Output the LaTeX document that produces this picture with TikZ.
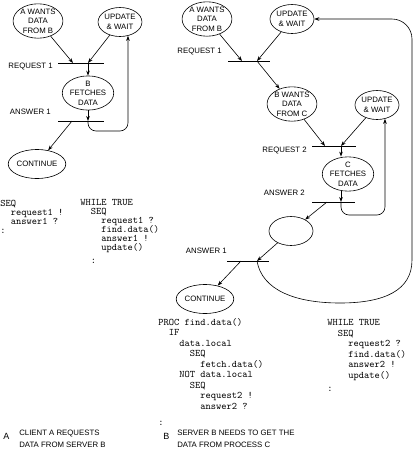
\documentclass[tikz,border=0pt]{standalone}
\usepackage{fontspec}
\setmainfont{Liberation Sans}
\usetikzlibrary{shapes.geometric,arrows.meta}

% un cran d'indentation du code (deux caracteres)
\newcommand{\decal}{\hspace*{1.05em}}
% interligne fixe pour le code
\newcommand{\serre}{\lineskiplimit=-6pt\relax}

\tikzset{
  etat/.style={draw, ellipse, inner sep=0pt, minimum width=44pt, minimum height=29pt,
    align=center, font=\fontsize{7.8}{9.4}\selectfont},
  etiq/.style={anchor=east, inner sep=0pt, font=\fontsize{7.8}{9}\selectfont},
  code/.style={anchor=north west, inner sep=0pt, align=left,
    font=\ttfamily\fontsize{10}{9}\selectfont\serre},
  codeb/.style={code, font=\ttfamily\fontsize{10}{10.5}\selectfont\serre},
  legende/.style={anchor=north west, inner sep=0pt, align=left,
    font=\fontsize{7.8}{11.5}\selectfont},
}

\begin{document}
\begin{tikzpicture}[x=1pt, y=-1pt, line width=0.6pt, >={Stealth[length=5pt,width=3.6pt]}]
\useasboundingbox (0,0) rectangle (416,451);

% A : le client demande au serveur B
\node[etat] (awb) at (38,21) {A WANTS\\DATA\\FROM B};
\node[etat, minimum width=41pt] (maj) at (120,22) {UPDATE\\\& WAIT};
\node[etat] (bfd) at (88,93) {B\\FETCHES\\DATA};
\node[etat] (suite) at (37,164) {CONTINUE};
% les barres des canaux
\draw (58,63) -- (104,63);
\coordinate (r1a) at (73,63);
\coordinate (r1b) at (88,63);
\draw (58,121) -- (104,121);
\coordinate (a1a) at (72,121);
\coordinate (a1b) at (88,121);
\node[etiq] (lreq1) at (53,67) {REQUEST 1};
\node[etiq] (lans1) at (51,112) {ANSWER 1};
\draw[->] (awb) -- (r1a);
\draw[->] (maj) -- (r1b);
\draw[->] (r1b) -- (bfd);
\draw[->] (bfd) -- (a1b);
\draw[->, rounded corners=8pt] (a1b) -- ++(0,10) -| (maj.-60);
\draw[->] (a1a) -- (suite);

\node[code] (progA) at (0,199.5) {SEQ\\\decal request1 !\\\decal answer1 ?\\:};
\node[code] (progB) at (80,199.5) {WHILE TRUE\\\decal SEQ\\\decal\decal request1 ?\\\decal\decal find.data()\\\decal\decal answer1 !\\\decal\decal update()\\[3.5pt]\decal :};

% B : le serveur B demande au processus C
\node[etat] (awb2) at (207,19) {A WANTS\\DATA\\FROM B};
\node[etat] (maj1) at (292,19) {UPDATE\\\& WAIT};
\node[etat] (bwc) at (292,104) {B WANTS\\DATA\\FROM C};
\node[etat] (maj2) at (377,105) {UPDATE\\\& WAIT};
\node[etat] (cfd) at (348,174) {C\\FETCHES\\DATA};
\node[etat] (vide) at (291,231) {};
\node[etat] (suite2) at (205,299) {CONTINUE};
\draw (228,61) -- (270,61);
\coordinate (s1a) at (242,61);
\coordinate (s1b) at (257,61);
\draw (312,146) -- (356,146);
\coordinate (s2a) at (325,146);
\coordinate (s2b) at (341,146);
\draw (312,202) -- (355,202);
\coordinate (t2a) at (327,202);
\coordinate (t2b) at (341,202);
\draw (227,261) -- (269,261);
\coordinate (t1a) at (241,261);
\coordinate (t1b) at (257,261);
\node[etiq] (rreq1) at (222,52) {REQUEST 1};
\node[etiq] (rreq2) at (307,151) {REQUEST 2};
\node[etiq] (rans2) at (305,193) {ANSWER 2};
\node[etiq] (rans1) at (227,251) {ANSWER 1};
\draw[->] (awb2) -- (s1a);
\draw[->] (maj1) -- (s1b);
\draw[->] (s1b) -- (bwc);
\draw[->] (bwc) -- (s2a);
\draw[->] (maj2) -- (s2b);
\draw[->] (s2b) -- (s2b |- cfd.north);
\draw[->] (cfd.south -| t2b) -- (t2b);
\draw[->, rounded corners=8pt] (t2b) -- ++(0,13) -| (maj2.-60);
\draw[->] (t2a) -- (vide);
\draw[->] (vide) -- (t1b);
\draw[->] (t1a) -- (suite2);
% la grande boucle qui remonte au premier UPDATE
\draw[->] (t1b) .. controls (262,290) and (295,303) .. (340,303)
  .. controls (385,303) and (412,290) .. (412,260)
  [rounded corners=20pt] |- (maj1.east);

\node[codeb] (proc) at (158,318) {PROC find.data()\\\decal IF\\\decal\decal data.local\\\decal\decal\decal SEQ\\\decal\decal\decal\decal fetch.data()\\\decal\decal NOT data.local\\\decal\decal\decal SEQ\\\decal\decal\decal\decal request2 !\\\decal\decal\decal\decal answer2 ?\\[6pt]:};
\node[codeb] (progC) at (327,319.5) {WHILE TRUE\\\decal SEQ\\\decal\decal request2 ?\\\decal\decal find.data()\\\decal\decal answer2 !\\\decal\decal update()\\[2.5pt]:};

% legendes
\node[anchor=west, inner sep=0pt, font=\fontsize{9}{9}\selectfont] (lettreA) at (3,436) {A};
\node[legende] (legA) at (19,430) {CLIENT A REQUESTS\\DATA FROM SERVER B};
\node[anchor=west, inner sep=0pt, font=\fontsize{9}{9}\selectfont] (lettreB) at (163,436) {B};
\node[legende] (legB) at (177,430) {SERVER B NEEDS TO GET THE\\DATA FROM PROCESS C};
\end{tikzpicture}
\end{document}
